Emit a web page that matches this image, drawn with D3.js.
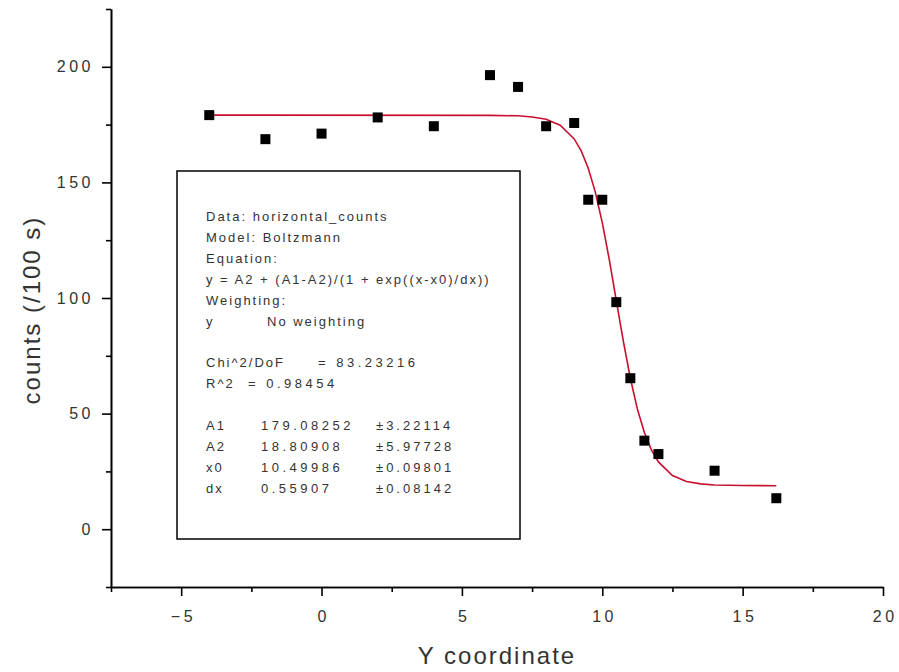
<!DOCTYPE html>
<html>
<head>
<meta charset="utf-8">
<script src="https://cdn.jsdelivr.net/npm/d3@7"></script>
<style>
  body { margin: 0; background: #fff; }
  text { font-family: "Liberation Sans", Arial, sans-serif; }
</style>
</head>
<body>
<div id="container"></div>
<script>

// measured points
const yCoord = [-4, -2, 0, 2, 4, 6, 7, 8, 9, 9.5, 10, 10.5, 11, 11.5, 12, 14, 16.2];
const counts = [179.1, 168.7, 171.1, 178.1, 174.3, 196.4, 191.3, 174.3, 175.7, 142.5, 142.5, 98.2, 65.3, 38.3, 32.5, 25.3, 13.4];

// fitted Boltzmann curve
const fitX = [-4, 6, 7, 7.5, 8, 8.5, 9, 9.25, 9.5, 9.75, 10, 10.25, 10.5, 10.75, 11, 11.25, 11.5, 11.75, 12, 12.5, 13, 13.5, 14, 15, 16.2];
const fitY = [179.1, 179.0, 178.8, 178.3, 177.3, 174.7, 168.8, 163.6, 156.1, 145.9, 132.6, 116.6, 98.9, 81.3, 65.3, 52.0, 41.8, 34.3, 29.1, 23.2, 20.6, 19.6, 19.1, 18.9, 18.8];

const xTicks = [-5, 0, 5, 10, 15, 20];
const xMinor = [-7.5, -2.5, 2.5, 7.5, 12.5, 17.5];
const yTicks = [0, 50, 100, 150, 200];
const yMinor = [-25, 25, 75, 125, 175, 225];

// fit report box
const infoLines = ["Data: horizontal_counts", "Model: Boltzmann", "Equation:", "y = A2 + (A1-A2)/(1 + exp((x-x0)/dx))", "Weighting:"];
const weighting = ["y", "No weighting"];
const statNames = ["Chi^2/DoF", "R^2"];
const statValues = ["= 83.23216", "= 0.98454"];
const paramNames = ["A1", "A2", "x0", "dx"];
const paramValues = ["179.08252", "18.80908", "10.49986", "0.55907"];
const paramErrors = ["\u00b13.22114", "\u00b15.97728", "\u00b10.09801", "\u00b10.08142"];

const width = 899;
const height = 672;
const plotL = 111, plotR = 883, plotT = 9, plotB = 587;

const x = d3.scaleLinear().domain([-7.5, 20]).range([plotL, plotR]);
const y = d3.scaleLinear().domain([-25, 225]).range([plotB, plotT]);

const svg = d3.select("#container")
  .append("svg")
  .attr("width", width)
  .attr("height", height);

// axes
const xAxis = svg.append("g")
  .attr("transform", `translate(0,${plotB})`)
  .call(d3.axisBottom(x).tickValues(xTicks).tickSize(9).tickSizeOuter(0).tickPadding(15));
svg.append("g")
  .attr("transform", `translate(0,${plotB})`)
  .call(d3.axisBottom(x).tickValues(xMinor).tickSize(5).tickSizeOuter(0).tickFormat(""));

const yAxis = svg.append("g")
  .attr("transform", `translate(${plotL},0)`)
  .call(d3.axisLeft(y).tickValues(yTicks).tickSize(9).tickSizeOuter(0).tickPadding(8));
svg.append("g")
  .attr("transform", `translate(${plotL},0)`)
  .call(d3.axisLeft(y).tickValues(yMinor).tickSize(5).tickSizeOuter(0).tickFormat(""));

svg.selectAll(".domain").attr("stroke", "#000").attr("stroke-width", 1.6);
svg.selectAll(".tick line").attr("stroke", "#000").attr("stroke-width", 1.6);
svg.selectAll(".tick text")
  .attr("fill", "#333")
  .style("font-size", "16px")
  .style("letter-spacing", "3.5px")
  .style("font-family", "'Liberation Sans', Arial, sans-serif");
xAxis.selectAll(".tick text").attr("dx", "1.75px");

// axis titles
svg.append("text")
  .attr("x", (plotL + plotR) / 2)
  .attr("y", 664)
  .attr("text-anchor", "middle")
  .attr("fill", "#333")
  .style("font-size", "24px")
  .style("letter-spacing", "2px")
  .text("Y coordinate");

svg.append("text")
  .attr("transform", "translate(40,310) rotate(-90)")
  .attr("text-anchor", "middle")
  .attr("fill", "#333")
  .style("font-size", "24px")
  .style("letter-spacing", "2px")
  .text("counts (/100 s)");

// fit curve
const line = d3.line().x((d, i) => x(fitX[i])).y(d => y(d));
svg.append("path")
  .datum(fitY)
  .attr("fill", "none")
  .attr("stroke", "#c8102e")
  .attr("stroke-width", 1.6)
  .attr("d", line);

// data points
const s = 10;
svg.append("g")
  .selectAll("rect")
  .data(counts)
  .enter()
  .append("rect")
  .attr("x", (d, i) => x(yCoord[i]) - s / 2)
  .attr("y", d => y(d) - s / 2)
  .attr("width", s)
  .attr("height", s)
  .attr("fill", "#000");

// report box
svg.append("rect")
  .attr("x", 177)
  .attr("y", 171)
  .attr("width", 343)
  .attr("height", 368)
  .attr("fill", "none")
  .attr("stroke", "#000")
  .attr("stroke-width", 1.5);

const tx = 206;
const row0 = 221;
const rowH = 20.9;
const row = i => row0 + i * rowH;

const box = svg.append("g").attr("fill", "#333").style("font-size", "13px");

function put(str, px, i, spacing) {
  box.append("text")
    .attr("x", px)
    .attr("y", row(i))
    .style("letter-spacing", spacing + "px")
    .text(str);
}

infoLines.forEach((t, i) => put(t, tx, i, 2));
put(weighting[0], tx, 5, 2);
put(weighting[1], 267, 5, 2);

put(statNames[0], tx, 7, 2);
put(statValues[0], 318, 7, 3.5);
put(statNames[1], tx, 8, 2);
put(statValues[1], 248, 8, 3.5);

paramNames.forEach((t, i) => {
  put(t, tx, 10 + i, 2);
  put(paramValues[i], 261, 10 + i, 3.5);
  put(paramErrors[i], 376, 10 + i, 3);
});

</script>
</body>
</html>
